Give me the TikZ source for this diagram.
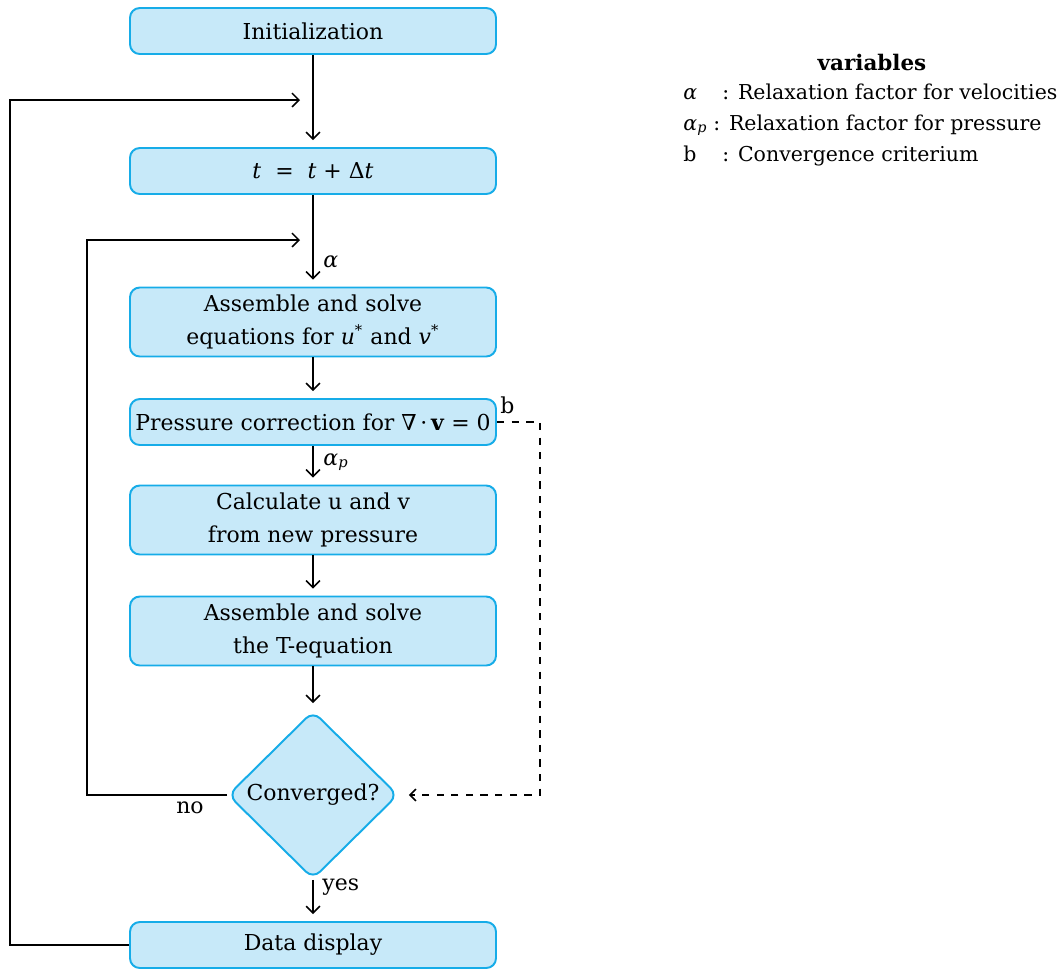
\documentclass[tikz,border=0pt]{standalone}
\usepackage{fontspec}
\setmainfont{DejaVu Serif}
\usetikzlibrary{shapes.geometric,arrows.meta}

\definecolor{boxfill}{RGB}{199,233,249}
\definecolor{boxline}{RGB}{22,172,232}

\newcommand\pxu{0.41pt}
\newcommand\var[1]{\textit{#1}}

\tikzset{
  stepbox/.style={draw=boxline, fill=boxfill, line width=0.8pt,
    rounded corners=4pt, align=center, inner sep=0pt,
    minimum width=366*\pxu, minimum height=46*\pxu},
  tallbox/.style={stepbox, minimum height=69*\pxu},
  decision/.style={draw=boxline, fill=boxfill, line width=0.8pt,
    diamond, rounded corners=4pt, inner sep=0pt, aspect=1,
    minimum width=170*\pxu, minimum height=168*\pxu},
  flow/.style={-{Straight Barb[length=2.8pt,width=5.6pt]}, line width=0.65pt, shorten >=7*\pxu},
  loopline/.style={-{Straight Barb[length=2.8pt,width=5.6pt]}, line width=0.65pt},
  checkline/.style={-{Straight Barb[length=2.4pt,width=4.8pt]}, line width=0.65pt, dashed, shorten >=10*\pxu},
  lbl/.style={inner sep=0pt},
  legend/.style={inner sep=0pt, anchor=base west, font=\fontsize{8.4}{10}\selectfont}
}

\begin{document}
\begin{tikzpicture}[x=\pxu, y=-\pxu, font=\fontsize{9}{13.5}\selectfont]
\useasboundingbox (0,0) rectangle (1063,969);

% main chain of steps
\node[stepbox] (init)  at (313,31)  {Initialization};
\node[stepbox] (tstep) at (313,171) {\var{t}\ \ =\ \ \var{t} + Δ\var{t}};
\node[tallbox] (uv)    at (313,322) {Assemble and solve\\equations for \var{u}\textsuperscript{*} and \var{v}\textsuperscript{*}};
\node[stepbox] (press) at (313,422) {Pressure correction for ∇\,·\,\textbf{v} = 0};
\node[tallbox] (calc)  at (313,520) {Calculate u and v\\from new pressure};
\node[tallbox] (teq)   at (313,631) {Assemble and solve\\the T-equation};
\node[decision] (conv) at (313,795) {Converged?};
\node[stepbox] (disp)  at (313,945) {Data display};

% loop end points
\coordinate (tl)  at (10,100);
\coordinate (te)  at (300,100);
\coordinate (il)  at (87,240);
\coordinate (ie)  at (300,240);
\coordinate (bc)  at (540,795);

% forward connectors
\draw[flow] (init)  -- (tstep);
\draw[flow] (tstep) -- (uv);
\draw[flow] (uv)    -- (press);
\draw[flow] (press) -- (calc);
\draw[flow] (calc)  -- (teq);
\draw[flow] (teq)   -- (conv);
\draw[flow] (conv)  -- (disp);

% feedback loops
\draw[loopline] (disp.west) -| (tl) -- (te);
\draw[loopline] (conv.west) -| (il) -- (ie);
\draw[checkline] (press.east) -| (bc) -- (conv.east);

% connector labels
\node[lbl, anchor=west] (la)  at (323,262) {\var{α}};
\node[lbl, anchor=west] (lap) at (323,462) {\var{α}\textsubscript{\var{p}}};
\node[lbl, anchor=west] (lb)  at (500,405) {b};
\node[lbl] (lno)  at (190,808) {no};
\node[lbl, anchor=west] (lyes) at (322,887) {yes};

% legend
\node[lbl, font=\fontsize{8.8}{10}\selectfont] (vh) at (872,62) {\textbf{variables}};
\node[legend] (s1) at (683,99)  {\var{α}};
\node[legend] (s2) at (683,130) {\var{α}\textsubscript{\var{p}}};
\node[legend] (s3) at (683,161) {b};
\node[legend] (v1) at (722,99)  {: Relaxation factor for velocities};
\node[legend] (v2) at (713,130) {: Relaxation factor for pressure};
\node[legend] (v3) at (722,161) {: Convergence criterium};
\end{tikzpicture}
\end{document}
